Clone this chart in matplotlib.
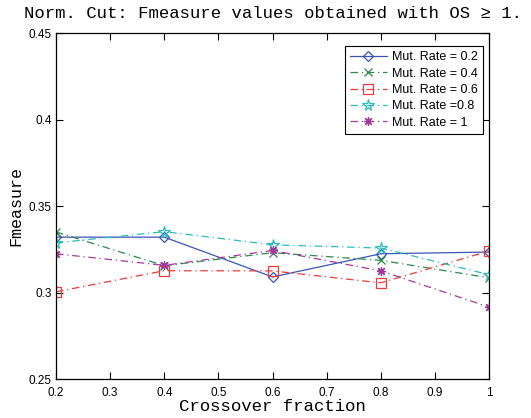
import matplotlib
matplotlib.use("Agg")
import matplotlib.pyplot as plt
from matplotlib.ticker import FixedLocator, FuncFormatter

# crossover fractions on the x axis
crossover = [0.2, 0.4, 0.6, 0.8, 1.0]

# Fmeasure for each mutation rate
fm_mut_02 = [0.3320, 0.3320, 0.3090, 0.3224, 0.3234]
fm_mut_04 = [0.3350, 0.3155, 0.3230, 0.3186, 0.3085]
fm_mut_06 = [0.3004, 0.3126, 0.3125, 0.3056, 0.3240]
fm_mut_08 = [0.3287, 0.3352, 0.3276, 0.3257, 0.3103]
fm_mut_10 = [0.3224, 0.3157, 0.3243, 0.3125, 0.2916]

labels = ["Mut. Rate = 0.2", "Mut. Rate = 0.4", "Mut. Rate = 0.6",
          "Mut. Rate =0.8", "Mut. Rate = 1"]

x_ticks = [0.2, 0.3, 0.4, 0.5, 0.6, 0.7, 0.8, 0.9, 1.0]
y_ticks = [0.25, 0.3, 0.35, 0.4, 0.45]

dashdot = (0, (6, 3, 1, 3))
styles = [
    dict(color="#3a55b4", linestyle="-", marker="D", markersize=5.5),
    dict(color="#2a8a4a", linestyle=dashdot, marker="x", markersize=5.5),
    dict(color="#ee3a3a", linestyle=dashdot, marker="s", markersize=6.5),
    dict(color="#2cbcbc", linestyle=dashdot, marker="*", markersize=8.5),
    dict(color="#a43a9c", linestyle=dashdot, marker=(8, 2, 0), markersize=6.5),
]

series = [fm_mut_02, fm_mut_04, fm_mut_06, fm_mut_08, fm_mut_10]

fig = plt.figure(figsize=(5.31, 4.18), dpi=100)
ax = fig.add_axes([0.1055, 0.0933, 0.8155, 0.8277])

for vals, lab, st in zip(series, labels, styles):
    ax.plot(crossover, vals, label=lab, linewidth=0.9,
            markerfacecolor="none", markeredgecolor=st["color"],
            markeredgewidth=0.9, **st)

ax.set_xlim(0.2, 1.0)
ax.set_ylim(0.25, 0.45)
ax.xaxis.set_major_locator(FixedLocator(x_ticks))
ax.yaxis.set_major_locator(FixedLocator(y_ticks))
fmt = FuncFormatter(lambda v, p: "%g" % round(v, 2))
ax.xaxis.set_major_formatter(fmt)
ax.yaxis.set_major_formatter(fmt)
ax.tick_params(direction="in", top=True, right=True, length=5, width=0.8,
               labelsize=8.5)
ax.tick_params(axis="x", pad=6)
ax.tick_params(axis="y", pad=3)
for lbl in ax.get_xticklabels() + ax.get_yticklabels():
    lbl.set_family("Liberation Sans")
for sp in ax.spines.values():
    sp.set_linewidth(0.9)

mono = "Liberation Mono"
ax.set_title("Norm. Cut: Fmeasure values obtained with OS \u2265 1.",
             family=[mono, "DejaVu Sans Mono"], fontsize=12.4, pad=11)
ax.set_xlabel("Crossover fraction", family=mono, fontsize=12.5, labelpad=0)
ax.set_ylabel("Fmeasure", family=mono, fontsize=12, labelpad=4)

leg = ax.legend(loc="upper right", bbox_to_anchor=(0.986, 0.962),
                borderaxespad=0,
                prop={"family": "Liberation Sans", "size": 9},
                fancybox=False, edgecolor="black", framealpha=1,
                handlelength=3.0, borderpad=0.4, labelspacing=0.35,
                handletextpad=0.4)
leg.get_frame().set_linewidth(0.8)

fig.savefig("out.png", dpi=100)
